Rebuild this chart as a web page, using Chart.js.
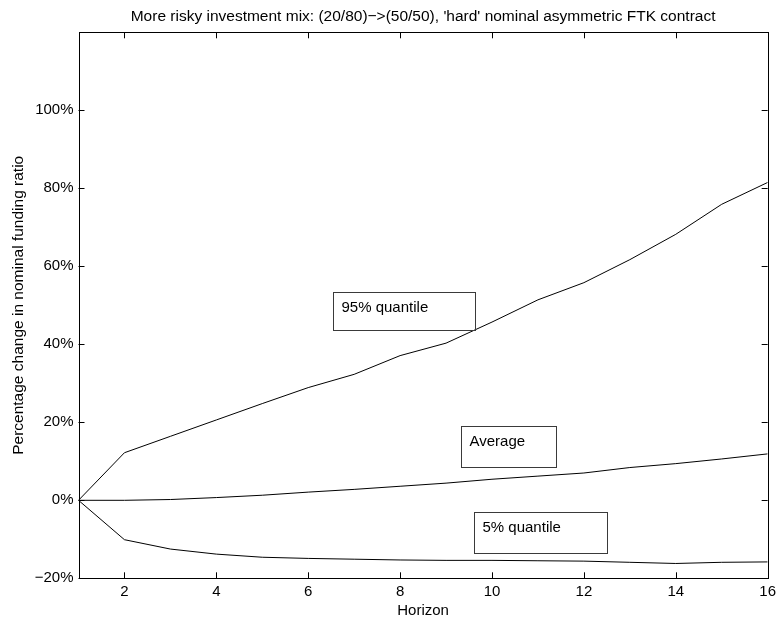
<!DOCTYPE html>
<html>
<head>
<meta charset="utf-8">
<script src="https://cdn.jsdelivr.net/npm/chart.js@4"></script>
<style>
  html, body { margin: 0; padding: 0; background: #fff; }
  #wrap { width: 781px; height: 622px; }
</style>
</head>
<body>
<div id="wrap"><canvas id="chart"></canvas></div>
<script>
// values (percent change)
const horizon = [1, 2, 3, 4, 5, 6, 7, 8, 9, 10, 11, 12, 13, 14, 15, 16];
const quantile95 = [0, 12.2, 16.4, 20.6, 24.8, 28.9, 32.3, 37.1, 40.3, 45.7, 51.4, 55.8, 61.7, 68.2, 75.9, 81.5];
const average = [0, 0.0, 0.2, 0.7, 1.3, 2.1, 2.8, 3.6, 4.4, 5.4, 6.2, 7.0, 8.4, 9.4, 10.6, 11.9];
const quantile5 = [0, -10.1, -12.5, -13.8, -14.6, -14.9, -15.1, -15.3, -15.4, -15.4, -15.5, -15.6, -15.9, -16.2, -15.9, -15.8];

const xTicks = [2, 4, 6, 8, 10, 12, 14, 16];
const yTicks = [-20, 0, 20, 40, 60, 80, 100];
const seriesNames = ['95% quantile', 'Average', '5% quantile'];

const FONT = '"Liberation Sans", Arial, Helvetica, sans-serif';

const toPoints = (vals) => horizon.map((h, i) => ({ x: h, y: vals[i] }));

// text boxes, placed in data units
const boxes = [
    { text: seriesNames[0], x1: 6.53, x2: 9.64, y1: 53.3, y2: 43.7 },
    { text: seriesNames[1], x1: 9.33, x2: 11.40, y1: 19.0, y2: 8.46 },
    { text: seriesNames[2], x1: 9.60, x2: 12.51, y1: -3.08, y2: -13.6 },
];

/** box round the plot with inward ticks on all four sides */
const frame = {
    id: 'frame',
    afterDraw(chart) {
        const { ctx, chartArea: a, scales: { x, y } } = chart;
        ctx.save();
        ctx.strokeStyle = '#000';
        ctx.lineWidth = 1;
        ctx.beginPath();
        xTicks.forEach((v) => {
            const px = Math.round(x.getPixelForValue(v)) + 0.5;
            ctx.moveTo(px, a.bottom); ctx.lineTo(px, a.bottom - 6);
            ctx.moveTo(px, a.top); ctx.lineTo(px, a.top + 6);
        });
        yTicks.forEach((v) => {
            const py = Math.round(y.getPixelForValue(v)) + 0.5;
            ctx.moveTo(a.left, py); ctx.lineTo(a.left + 6, py);
            ctx.moveTo(a.right, py); ctx.lineTo(a.right - 6, py);
        });
        ctx.stroke();
        ctx.strokeRect(Math.round(a.left) + 0.5, Math.round(a.top) + 0.5,
            Math.round(a.right - a.left), Math.round(a.bottom - a.top));
        ctx.restore();
    },
};

const textBoxes = {
    id: 'textBoxes',
    afterDatasetsDraw(chart) {
        const { ctx, scales: { x, y } } = chart;
        ctx.save();
        boxes.forEach((b) => {
            const l = Math.round(x.getPixelForValue(b.x1)) + 0.5;
            const r = Math.round(x.getPixelForValue(b.x2)) + 0.5;
            const t = Math.round(y.getPixelForValue(b.y1)) + 0.5;
            const bt = Math.round(y.getPixelForValue(b.y2)) + 0.5;
            ctx.strokeStyle = '#3a3a3a';
            ctx.lineWidth = 1;
            ctx.strokeRect(l, t, r - l, bt - t);
            ctx.fillStyle = '#000';
            ctx.font = '15px ' + FONT;
            ctx.textBaseline = 'middle';
            ctx.textAlign = 'left';
            ctx.fillText(b.text, l + 8, t + 15);
        });
        ctx.restore();
    },
};

const lineStyle = {
    borderColor: '#000',
    borderWidth: 1,
    pointRadius: 0,
    tension: 0,
    fill: false,
};

new Chart(document.getElementById('chart'), {
    type: 'line',
    data: {
        datasets: [
            { label: seriesNames[0], data: toPoints(quantile95), ...lineStyle },
            { label: seriesNames[1], data: toPoints(average), ...lineStyle },
            { label: seriesNames[2], data: toPoints(quantile5), ...lineStyle },
        ],
    },
    options: {
        responsive: true,
        maintainAspectRatio: false,
        animation: false,
        layout: { padding: { left: 0, right: 11, top: 0, bottom: 0 } },
        plugins: {
            legend: { display: false },
            tooltip: { enabled: false },
            title: {
                display: true,
                fullSize: false,
                text: "More risky investment mix: (20/80)\u2212>(50/50), 'hard' nominal asymmetric FTK contract",
                color: '#000',
                font: { family: FONT, size: 15.5, weight: 'normal' },
                padding: { top: 7.5, bottom: 6.2 },
            },
        },
        scales: {
            x: {
                type: 'linear',
                min: 1,
                max: 16,
                afterBuildTicks: (s) => { s.ticks = xTicks.map((v) => ({ value: v })); },
                afterFit: (s) => { s.height = 43.7; },
                grid: { display: false, drawTicks: false },
                border: { display: false },
                ticks: { color: '#000', padding: 5, maxRotation: 0, font: { family: FONT, size: 15 } },
                title: {
                    display: true,
                    text: 'Horizon',
                    color: '#000',
                    font: { family: FONT, size: 15 },
                    padding: { top: 0, bottom: 2 },
                },
            },
            y: {
                type: 'linear',
                min: -20,
                max: 120,
                afterBuildTicks: (s) => { s.ticks = yTicks.map((v) => ({ value: v })); },
                afterFit: (s) => { s.width = 78.5; },
                grid: { display: false, drawTicks: false },
                border: { display: false },
                ticks: {
                    color: '#000',
                    padding: 5,
                    font: { family: FONT, size: 15 },
                    callback: (v) => (v < 0 ? '\u2212' + Math.abs(v) : v) + '%',
                },
                title: {
                    display: true,
                    text: 'Percentage change in nominal funding ratio',
                    color: '#000',
                    font: { family: FONT, size: 15.5 },
                    padding: { top: 9, bottom: 0 },
                },
            },
        },
    },
    plugins: [textBoxes, frame],
});
</script>
</body>
</html>
